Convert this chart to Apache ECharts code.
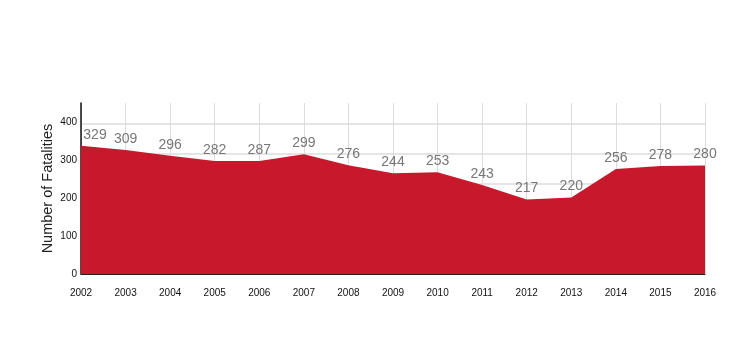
<!DOCTYPE html>
<html>
<head>
<meta charset="utf-8">
<script src="https://cdn.jsdelivr.net/npm/echarts@6/dist/echarts.min.js"></script>
<style>
  html, body { margin: 0; padding: 0; background: #fff; }
  #chart { width: 743px; height: 352px; }
</style>
</head>
<body>
<div id="chart"></div>
<script>
// fatalities per year
var years = ['2002', '2003', '2004', '2005', '2006', '2007', '2008', '2009', '2010', '2011', '2012', '2013', '2014', '2015', '2016'];
// printed numbers above the area
var fatalities = [329, 309, 296, 282, 287, 299, 276, 244, 253, 243, 217, 220, 256, 278, 280];
// height of the filled area as drawn in the picture (does not follow the printed numbers exactly)
var areaLevel = [330, 319, 304, 291, 291, 308, 280, 259, 262, 229, 192, 197, 270, 278, 279];
var yTicks = [0, 100, 200, 300, 400];

var chart = echarts.init(document.getElementById('chart'));
var font = 'Liberation Sans, Arial, Helvetica, sans-serif';

var option = {
  animation: false,
  grid: { left: 81, right: 38, top: 103, bottom: 78 },
  xAxis: {
    type: 'category',
    data: years,
    boundaryGap: false,
    axisLine: { lineStyle: { color: '#222', width: 1 } },
    axisTick: { show: false },
    axisLabel: { color: '#111', fontSize: 10, fontFamily: font, margin: 14 },
    splitLine: { show: true, lineStyle: { color: '#dcdcdc', width: 1 } }
  },
  yAxis: [{
    // value axis for the area
    type: 'value',
    min: 0,
    max: 440,
    axisLine: { show: true, lineStyle: { color: '#111', width: 1.5 } },
    axisTick: { show: false },
    axisLabel: { show: false },
    splitLine: { show: false },
    name: 'Number of Fatalities',
    nameLocation: 'middle',
    nameGap: 26,
    nameTextStyle: { color: '#222', fontSize: 14.5, fontFamily: font }
  }, {
    // tick labels
    type: 'value',
    position: 'left',
    min: 0,
    max: 452,
    interval: 100,
    axisLine: { show: false },
    axisTick: { show: false },
    splitLine: { show: false },
    axisLabel: {
      color: '#111', fontSize: 10, fontFamily: font, margin: 4,
      formatter: function (v) { return yTicks.indexOf(v) >= 0 ? String(v) : ''; }
    }
  }, {
    // background grid
    type: 'value',
    min: 0,
    max: 171,
    interval: 30,
    axisLine: { show: false },
    axisTick: { show: false },
    axisLabel: { show: false },
    splitLine: { show: true, showMaxLine: false, lineStyle: { color: '#dcdcdc', width: 1.5 } }
  }],
  series: [{
    type: 'line',
    yAxisIndex: 0,
    data: areaLevel,
    symbol: 'circle',
    symbolSize: 2,
    showSymbol: true,
    itemStyle: { color: 'rgba(0,0,0,0)', borderWidth: 0 },
    lineStyle: { width: 0 },
    areaStyle: { color: '#c8192c', opacity: 1 },
    z: 3,
    label: {
      show: true,
      position: 'top',
      distance: 3,
      color: '#777',
      fontSize: 14,
      fontFamily: font,
      formatter: function (p) { return String(fatalities[p.dataIndex]); }
    },
    labelLayout: function (params) {
      if (params.dataIndex === 0) {
        return { dx: 14 };
      }
    }
  }]
};

chart.setOption(option);
</script>
</body>
</html>
